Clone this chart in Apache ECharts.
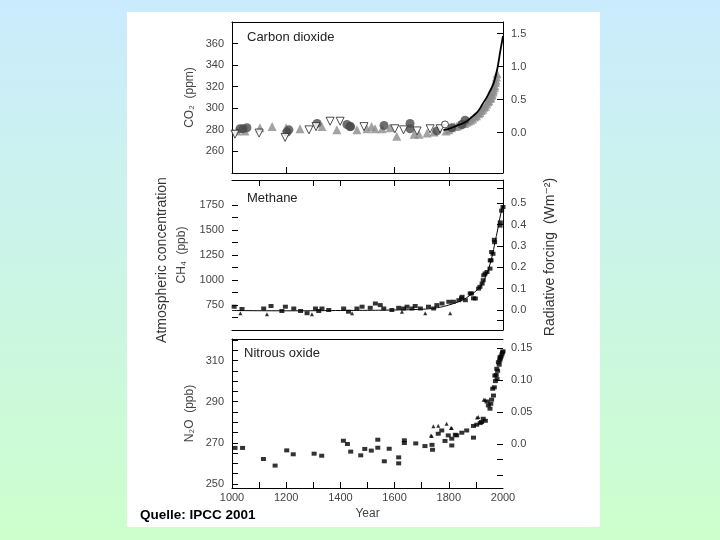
<!DOCTYPE html>
<html><head><meta charset="utf-8">
<script src="https://cdn.jsdelivr.net/npm/echarts@6/dist/echarts.min.js"></script>
<style>
html,body{margin:0;padding:0;width:720px;height:540px;overflow:hidden;
background:linear-gradient(to bottom,#caebfd 0%,#cbf5e6 50%,#ccffcc 100%);}
#panel{position:absolute;left:127px;top:12px;width:473px;height:515px;background:#fff;}
#chart{position:absolute;left:0;top:0;width:720px;height:540px;}
</style></head>
<body><div id="panel"></div><div id="chart"></div>
<script>
// ---------- data ----------
const yearLabels = [1000,1200,1400,1600,1800,2000];
const co2Ticks = [260,280,300,320,340,360];
const co2RfTicks = [0,0.5,1.0,1.5];
const ch4Labels = [750,1000,1250,1500,1750];
const ch4Ticks = [625,750,875,1000,1125,1250,1375,1500,1625,1750];
const ch4RfLabels = [0,0.1,0.2,0.3,0.4,0.5];
const ch4RfTicks = [-0.05,0,0.1,0.2,0.3,0.4,0.5,0.57];
const n2oLabels = [250,270,290,310];
const n2oTicks = [250,255,260,265,270,275,280,285,290,295,300,305,310,315,320];
const n2oRfLabels = [0,0.05,0.10,0.15];
const n2oRfTicks = [-0.05,-0.024,0,0.05,0.10,0.15];

const co2Circles = [[1030,281],[1041,281],[1055,282],[1203,278],[1210,280],[1314,286],[1424,285],[1435,283],[1438,283],[1561,284],[1657,286],[1657,281],[1756,279],[1811,282],[1848,285],[1860,289]];
const co2Triangles = [[1018,279],[1048,279],[1103,282],[1148,283],[1200,282],[1251,281],[1332,283],[1387,280],[1461,280],[1498,281],[1515,283],[1528,281],[1554,281],[1583,282],[1608,274],[1672,276],[1690,276],[1720,277],[1745,278],[1790,279],[1800,280],[1810,282],[1820,283],[1828,283],[1835,284],[1842,285],[1850,286],[1858,286],[1865,287],[1872,288],[1880,289],[1888,290],[1895,292],[1902,293],[1910,295],[1915,296],[1920,298],[1925,299],[1930,301],[1935,302],[1940,304],[1944,306],[1948,307],[1952,309],[1955,310],[1958,312],[1960,313],[1963,315],[1965,317],[1968,319],[1970,321],[1972,324],[1974,326],[1976,329],[1978,332]];
const co2OpenTri = [[1011,276],[1100,277],[1196,273],[1284,280],[1310,283],[1362,288],[1399,288],[1487,283],[1601,281],[1633,280],[1683,279],[1731,281],[1768,281]];
const co2OpenCircle = [[1786,285]];
const co2Curve = [[1780,280],[1800,281],[1830,284],[1860,287],[1890,293],[1910,298],[1927,305],[1940,310],[1952,316],[1960,320],[1970,327],[1980,338],[1990,353],[2000,367]];

const ch4Squares = [[1008,733],[1037,710],[1117,715],[1144,740],[1184,690],[1197,733],[1228,715],[1253,690],[1277,668],[1308,715],[1320,690],[1332,715],[1357,700],[1412,715],[1430,683],[1461,715],[1480,733],[1510,722],[1529,765],[1547,749],[1560,715],[1590,700],[1615,722],[1633,715],[1646,733],[1664,715],[1676,740],[1695,715],[1725,733],[1744,715],[1756,749],[1775,765],[1800,782],[1817,783],[1837,798],[1847,817],[1849,832],[1861,798],[1879,865],[1884,866],[1891,817],[1898,815],[1910,914],[1915,932],[1923,964],[1927,998],[1929,1047],[1934,1065],[1941,1080],[1952,1114],[1953,1196],[1956,1197],[1958,1280],[1963,1262],[1968,1402],[1969,1378],[1989,1544],[1990,1576],[1995,1693],[2000,1730]];
const ch4Triangles = [[1031,668],[1129,658],[1295,658],[1443,668],[1627,683],[1713,668],[1805,668]];
const ch4Curve = [[1000,695],[1200,692],[1400,695],[1600,700],[1700,708],[1750,720],[1800,750],[1850,800],[1880,850],[1900,890],[1920,950],[1940,1060],[1950,1140],[1960,1240],[1970,1370],[1980,1500],[1990,1640],[2000,1750]];

const n2oPoints = [[1011,267.5],[1039,267.5],[1116,262.1],[1159,258.9],[1202,266.3],[1226,264.4],[1303,264.7],[1331,263.7],[1411,271],[1426,269.4],[1438,265.7],[1475,263.9],[1490,267],[1514,266.2],[1538,271.5],[1538,267.6],[1562,261],[1580,267.1],[1615,262.9],[1615,260],[1636,271.2],[1636,269.9],[1678,269.7],[1712,268.4],[1738,269],[1740,266.6],[1761,274.4],[1774,276],[1786,270.9],[1798,273.6],[1811,272],[1811,268.7],[1824,273.9],[1829,273.6],[1848,274.9],[1866,276],[1891,272.5],[1891,278.2],[1903,278.8],[1916,279.6],[1921,280.1],[1927,281.7],[1935,280.7],[1941,290.1],[1946,288.2],[1952,286.6],[1955,289],[1958,291],[1962,296.3],[1965,293],[1968,297],[1970,302.7],[1972,300],[1975,303],[1977,306],[1978,301],[1980,305],[1983,309.2],[1986,308],[1988,310],[1989,311.6],[1990,311],[1993,312],[1996,313],[1998,314],[2000,314.5]];
const n2oTriangles = [[1734,273.6],[1737,273.3],[1743,278.1],[1761,278.3],[1792,279.3],[1808,277.2],[1811,277.2],[1904,282.3],[1909,282.5],[1929,290.9],[1934,290.9]];

// ---------- chart ----------
const FONT = 'Liberation Sans, Arial, DejaVu Sans, sans-serif';
const LBL = {fontFamily: FONT, fontSize: 11, color: '#444'};
const LINE = {lineStyle: {color: '#000', width: 1}};
function xAx(grid, pos, opts) {
  return Object.assign({
    type: 'value', gridIndex: grid, position: pos, min: 1000, max: 2000,
    axisLine: Object.assign({show: true, onZero: false}, LINE),
    axisTick: {show: false}, axisLabel: {show: false}, splitLine: {show: false}
  }, opts || {});
}
function yAx(grid, pos, min, max, labels, ticks, fmt, lineShow, extra) {
  return Object.assign({
    type: 'value', gridIndex: grid, position: pos, min: min, max: max,
    axisLine: Object.assign({show: lineShow, onZero: false}, LINE),
    axisTick: {show: true, inside: true, length: 6, customValues: ticks, lineStyle: {color: '#000', width: 1}},
    axisLabel: Object.assign({show: true, margin: 8, customValues: labels, formatter: fmt}, LBL),
    splitLine: {show: false}
  }, extra || {});
}
const nameStyle = {fontFamily: FONT, fontSize: 12, color: '#444'};

const option = {
  backgroundColor: 'transparent',
  animation: false,
  grid: [
    {left: 232, top: 22, width: 271, height: 151},
    {left: 232, top: 180, width: 271, height: 150},
    {left: 232, top: 339, width: 271, height: 149}
  ],
  xAxis: [
    xAx(0, 'bottom', {axisTick: {show: true, inside: true, length: 6, customValues: [1200,1600,1800], lineStyle: {color: '#000'}}}),
    xAx(0, 'top'),
    xAx(1, 'bottom'),
    xAx(1, 'top', {axisTick: {show: true, inside: true, length: 6, customValues: [1100,1300,1400,1600,1800], lineStyle: {color: '#000'}}}),
    xAx(2, 'bottom', {
      axisTick: {show: true, inside: true, length: 6, customValues: [1100,1200,1300,1400,1500,1600,1700,1800,1900], lineStyle: {color: '#000'}},
      axisLabel: Object.assign({show: true, margin: 4, customValues: yearLabels, formatter: v => String(v)}, LBL),
      name: 'Year', nameLocation: 'middle', nameGap: 20, nameTextStyle: nameStyle
    }),
    xAx(2, 'top')
  ],
  yAxis: [
    yAx(0, 'left', 240, 380, co2Ticks, co2Ticks, v => String(v), true,
      {name: 'CO\u2082  (ppm)', nameLocation: 'middle', nameGap: 36, nameRotate: 90, nameTextStyle: nameStyle}),
    yAx(0, 'right', -0.611, 1.677, co2RfTicks, co2RfTicks, v => v.toFixed(1), true),
    yAx(1, 'left', 500, 2000, ch4Labels, ch4Ticks, v => String(v), false,
      {name: 'CH\u2084  (ppb)', nameLocation: 'middle', nameGap: 44, nameRotate: 90, nameTextStyle: nameStyle}),
    yAx(1, 'right', -0.094, 0.609, ch4RfLabels, ch4RfTicks, v => v.toFixed(1), true),
    yAx(2, 'left', 248, 320.5, n2oLabels, n2oTicks, v => String(v), true,
      {name: 'N\u2082O  (ppb)', nameLocation: 'middle', nameGap: 36, nameRotate: 90, nameTextStyle: nameStyle}),
    yAx(2, 'right', -0.0694, 0.1646, n2oRfLabels, n2oRfTicks, v => (v === 0 ? '0.0' : v.toFixed(2)), false)
  ],
  series: [
    {type: 'scatter', xAxisIndex: 0, yAxisIndex: 0, data: co2Triangles, symbol: 'triangle', symbolSize: 9, itemStyle: {color: '#8c8c8c'}},
    {type: 'scatter', xAxisIndex: 0, yAxisIndex: 0, data: co2Circles, symbol: 'circle', symbolSize: 9, itemStyle: {color: '#4a4a4a'}},
    {type: 'scatter', xAxisIndex: 0, yAxisIndex: 0, data: co2OpenTri, symbol: 'triangle', symbolRotate: 180, symbolSize: 8, itemStyle: {color: '#fff', borderColor: '#222', borderWidth: 1}},
    {type: 'scatter', xAxisIndex: 0, yAxisIndex: 0, data: co2OpenCircle, symbol: 'circle', symbolSize: 7, itemStyle: {color: '#fff', borderColor: '#222', borderWidth: 1}},
    {type: 'line', xAxisIndex: 0, yAxisIndex: 0, data: co2Curve, smooth: true, showSymbol: false, lineStyle: {color: '#000', width: 1.8}},
    {type: 'line', xAxisIndex: 2, yAxisIndex: 2, data: ch4Curve, smooth: true, showSymbol: false, lineStyle: {color: '#000', width: 1}},
    {type: 'scatter', xAxisIndex: 2, yAxisIndex: 2, data: ch4Squares, symbol: 'rect', symbolSize: [5, 4], itemStyle: {color: '#000'}},
    {type: 'scatter', xAxisIndex: 2, yAxisIndex: 2, data: ch4Triangles, symbol: 'triangle', symbolSize: 4, itemStyle: {color: '#000'}},
    {type: 'scatter', xAxisIndex: 4, yAxisIndex: 4, data: n2oPoints, symbol: 'rect', symbolSize: [5, 4], itemStyle: {color: '#000'}},
    {type: 'scatter', xAxisIndex: 4, yAxisIndex: 4, data: n2oTriangles, symbol: 'triangle', symbolSize: 4, itemStyle: {color: '#000'}}
  ],
  graphic: [
    {type: 'text', left: 247, top: 31, style: {text: 'Carbon dioxide', font: '13px ' + FONT, fill: '#222'}},
    {type: 'text', left: 247, top: 192, style: {text: 'Methane', font: '13px ' + FONT, fill: '#222'}},
    {type: 'text', left: 244, top: 347, style: {text: 'Nitrous oxide', font: '13px ' + FONT, fill: '#222'}},
    {type: 'text', x: 162, y: 260, rotation: Math.PI / 2, style: {text: 'Atmospheric concentration', font: '14px ' + FONT, fill: '#333', align: 'center', verticalAlign: 'middle'}},
    {type: 'text', x: 550, y: 257, rotation: Math.PI / 2, style: {text: 'Radiative forcing  (Wm\u207B\u00B2)', font: '14px ' + FONT, fill: '#333', align: 'center', verticalAlign: 'middle'}},
    {type: 'text', left: 140, top: 508, style: {text: 'Quelle: IPCC 2001', font: 'bold 13.5px ' + FONT, fill: '#000'}}
  ]
};
const chart = echarts.init(document.getElementById('chart'), null, {renderer: 'canvas'});
chart.setOption(option);
</script>
</body></html>
